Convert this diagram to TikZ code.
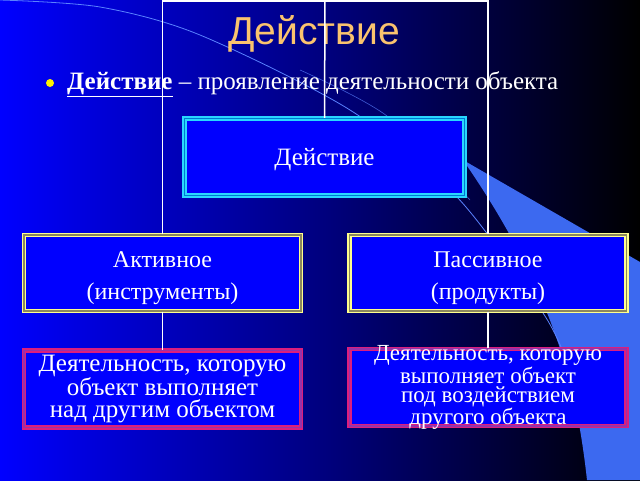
\documentclass[tikz,border=0pt]{standalone}
\usepackage{fontspec}
\setmainfont{Liberation Serif}
\newfontfamily\titlefont{Liberation Sans}
\usetikzlibrary{positioning,calc}
\definecolor{slideblue}{RGB}{0,0,255}
\definecolor{bandblue}{RGB}{60,105,240}
\definecolor{swoosh}{RGB}{90,130,255}
\definecolor{titleorange}{RGB}{250,195,110}
\definecolor{framecyan}{RGB}{40,215,255}
\definecolor{gapcyan}{RGB}{0,120,210}
\definecolor{frameyellow}{RGB}{255,255,140}
\definecolor{gapyellow}{RGB}{140,135,95}
\definecolor{framepink}{RGB}{220,30,125}
\definecolor{gappink}{RGB}{150,50,170}
\newcommand{\kindstrut}{\rule{0pt}{27pt}}

\begin{document}
\begin{tikzpicture}[x=1pt,y=-1pt]
		\tikzset{
			framebox/.style={fill=slideblue,text=white,line width=1.4pt,double distance=1.4pt,align=center,inner sep=2pt},
			actbox/.style={framebox,draw=framecyan,double=gapcyan,minimum width=280pt,minimum height=77pt,text depth=0pt,font=\fontsize{25}{28}\selectfont},
			kindbox/.style={framebox,draw=frameyellow,double=gapyellow,minimum width=277pt,minimum height=76pt,font=\fontsize{24}{32}\selectfont},
			descbox/.style={framebox,draw=framepink,double=gappink,minimum width=277pt,minimum height=77pt,inner ysep=-7pt},
			link/.style={white,line width=1.5pt},
		}
		% slide background
		\useasboundingbox (0,0) rectangle (640,480);
		\shade[left color=slideblue,right color=black] (0,0) rectangle (640,480);
		\fill[bandblue] (463,160) -- (640,262) -- (640,480) -- (587,480)
			.. controls (578,400) and (560,300) .. (463,160) -- cycle;
		\draw[swoosh,line width=0.8pt] plot[smooth] coordinates {(0,0) (100,7) (200,35) (350,110) (457,197) (543,313) (566,360)};
		\draw[swoosh,line width=0.6pt,opacity=0.7] plot[smooth] coordinates {(300,70) (387,116) (470,200)};

		\node[titleorange,font=\titlefont\fontsize{39}{42}\selectfont] (title) at (314,34) {Действие};
		\fill[yellow] (50,83) circle (4);
		\node[white,anchor=west,inner sep=0pt,font=\fontsize{25}{28}\selectfont] (defn) at (67,84)
			{\underline{\textbf{Действие}} -- проявление деятельности объекта};

		\node[actbox] (act) at (324.5,157) {Действие};
		\node[kindbox] (active) at (162.5,273) {\kindstrut Активное\\(инструменты)};
		\node[kindbox] (passive) at (488,273) {\kindstrut Пассивное\\(продукты)};
		\node[descbox,font=\fontsize{25}{21.5}\selectfont] (overobj) at (162.5,389)
			{Деятельность, которую\\объект выполняет\\над другим объектом};
		\node[descbox,font=\fontsize{23}{19.5}\selectfont] (underobj) at (488,387.5)
			{Деятельность, которую\\выполняет объект\\под воздействием\\другого объекта};

		\coordinate (top) at (325,1);
		\draw[link] (active.north) |- (top) -| (passive.north);
		\draw[link] (act.north) -- (top);
		\draw[link] (active.south) -- (overobj.north);
		\draw[link] (passive.south) -- (underobj.north);
	\end{tikzpicture}
\end{document}
